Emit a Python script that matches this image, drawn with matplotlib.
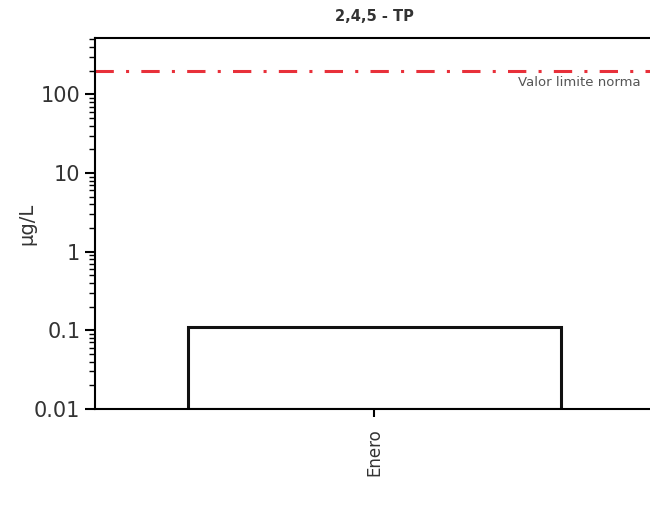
import matplotlib.pyplot as plt
import numpy as np

# datos
meses = ['Enero']
valores = [0.1]
limite = 200
titulo = '2,4,5 - TP'

fig = plt.figure(figsize=(6.5, 5.08), dpi=100)
ax = fig.add_axes([0.146, 0.195, 0.86, 0.73])

x = np.arange(len(meses))
ax.bar(x, valores, width=1.0, bottom=0.01, color='white', edgecolor='#111111', linewidth=2.2)
ax.axhline(limite, color='#e8303a', linestyle='-.', linewidth=2.2, dashes=(6, 4, 1, 4))
ax.text(0.715, limite * 0.86, 'Valor limite norma', ha='right', va='top',
        fontsize=9.5, color='#555555')

ax.set_yscale('log')
ax.set_ylim(0.01, 520)
ax.set_xlim(-0.75, 0.75)
ax.set_yticks([0.01, 0.1, 1, 10, 100])
ax.set_yticklabels(['0.01', '0.1', '1', '10', '100'], fontsize=15, color='#333333')
ax.set_xticks(x)
ax.set_xticklabels(meses, rotation=90, fontsize=12, color='#333333')
ax.set_ylabel('µg/L', fontsize=14, color='#333333', labelpad=-2)
ax.set_title(titulo, fontsize=10.5, fontweight='bold', color='#333333', pad=12)

ax.tick_params(axis='y', which='major', length=7, width=1.5, direction='out')
ax.tick_params(axis='y', which='minor', length=4, width=1, direction='out')
ax.tick_params(axis='x', length=6, width=1.5, pad=8)
for s in ax.spines.values():
    s.set_linewidth(1.5)

fig.savefig('out.png', dpi=100)
